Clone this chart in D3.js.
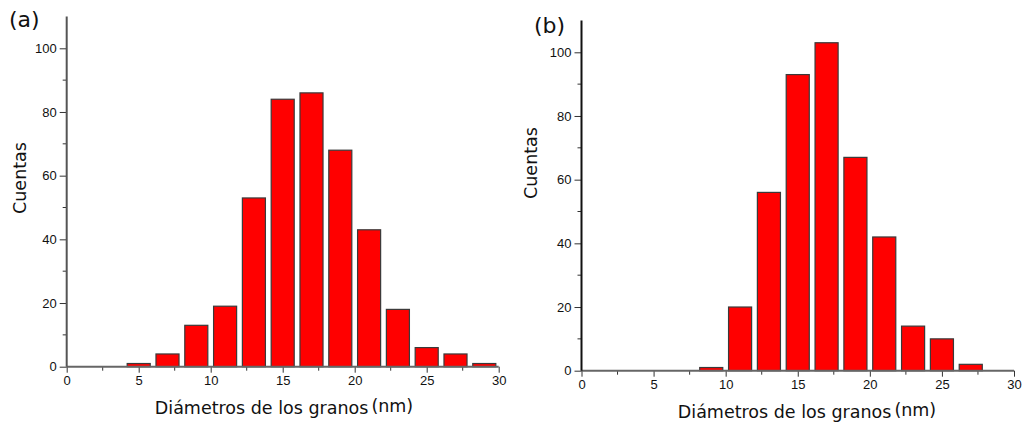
<!DOCTYPE html>
<html>
<head>
<meta charset="utf-8">
<script src="https://cdn.jsdelivr.net/npm/d3@7"></script>
<style>
  html, body { margin: 0; padding: 0; background: #fff; }
  svg { display: block; }
  .tick text { font-family: "Liberation Sans", Arial, sans-serif; font-size: 13px; fill: #111; }
  .title { font-family: "DejaVu Sans", sans-serif; fill: #111; }
</style>
</head>
<body>
<svg id="chart" width="1027" height="423"></svg>
<script>
// Grain-diameter histograms: bin centres (nm) and counts for each sample
const binsA = [5, 7, 9, 11, 13, 15, 17, 19, 21, 23, 25, 27, 29];
const countsA = [1, 4, 13, 19, 53, 84, 86, 68, 43, 18, 6, 4, 1];
const binsB = [9, 11, 13, 15, 17, 19, 21, 23, 25, 27];
const countsB = [1, 20, 56, 93, 103, 67, 42, 14, 10, 2];
const xTicks = [0, 5, 10, 15, 20, 25, 30];
const yTicks = [0, 20, 40, 60, 80, 100];
const xLabel = "Diámetros de los granos";
const xUnit = "(nm)";
const yLabel = "Cuentas";

const svg = d3.select("#chart");

function panel(opts) {
  const { bins, counts, tag, left, right, bottom, top, yAxisColor, tagPos, yTitleX, yTitleY, xTitleX } = opts;
  const x = d3.scaleLinear().domain([0, 30]).range([left, right]);
  const y = d3.scaleLinear().domain([0, 100]).range([bottom, top]);
  const g = svg.append("g");
  const binWidth = 2, barFrac = 0.8;

  // bars
  g.selectAll("rect.bar")
    .data(bins.map((b, i) => ({ b, c: counts[i] })))
    .join("rect")
    .attr("class", "bar")
    .attr("x", d => x(d.b - binWidth * barFrac / 2))
    .attr("width", d => x(d.b + binWidth * barFrac / 2) - x(d.b - binWidth * barFrac / 2))
    .attr("y", d => y(d.c))
    .attr("height", d => y(0) - y(d.c))
    .attr("fill", "#ff0000")
    .attr("stroke", "#3a3a3a")
    .attr("stroke-width", 1.2);

  // x axis: major ticks with labels, minor ticks in between
  const xAxis = g.append("g").attr("transform", `translate(0,${bottom})`)
    .call(d3.axisBottom(x).tickValues(xTicks).tickSize(6).tickPadding(3).tickFormat(d3.format("d")));
  xAxis.select(".domain").remove();
  xAxis.selectAll(".tick line").attr("stroke", "#333");
  const xMinor = d3.range(2.5, 30, 5);
  g.selectAll("line.xminor").data(xMinor).join("line")
    .attr("x1", d => x(d)).attr("x2", d => x(d))
    .attr("y1", bottom).attr("y2", bottom + 4)
    .attr("stroke", "#333");
  g.append("line")
    .attr("x1", x(0)).attr("x2", x(30))
    .attr("y1", bottom).attr("y2", bottom)
    .attr("stroke", "#666").attr("stroke-width", 2);

  // y axis
  const yMax = 110;
  const yAxis = g.append("g").attr("transform", `translate(${left},0)`)
    .call(d3.axisLeft(y).tickValues(yTicks).tickSize(7).tickPadding(3).tickFormat(d3.format("d")));
  yAxis.select(".domain").remove();
  yAxis.selectAll(".tick line").attr("stroke", "#333");
  const yMinor = d3.range(10, 110, 20);
  g.selectAll("line.yminor").data(yMinor).join("line")
    .attr("x1", left - 4).attr("x2", left)
    .attr("y1", d => y(d)).attr("y2", d => y(d))
    .attr("stroke", "#333");
  g.append("line")
    .attr("x1", left).attr("x2", left)
    .attr("y1", bottom).attr("y2", y(yMax))
    .attr("stroke", yAxisColor).attr("stroke-width", 2);

  // axis titles
  const xt = g.append("text").attr("class", "title")
    .attr("x", xTitleX).attr("y", bottom + 47)
    .attr("text-anchor", "middle").attr("font-size", 17.5);
  xt.append("tspan").text(xLabel);
  xt.append("tspan").attr("dx", 3).attr("dy", -2).text(xUnit);

  g.append("text").attr("class", "title")
    .attr("transform", `translate(${yTitleX},${yTitleY}) rotate(-90)`)
    .attr("text-anchor", "middle").attr("font-size", 17.5)
    .text(yLabel);

  // panel tag
  g.append("text").attr("class", "title")
    .attr("x", tagPos[0]).attr("y", tagPos[1])
    .attr("font-size", 22)
    .text(tag);
}

panel({
  bins: binsA, counts: countsA, tag: "(a)",
  left: 66.7, right: 498.7, bottom: 366.7, top: 48.3,
  yAxisColor: "#555", tagPos: [9, 27], yTitleX: 26, yTitleY: 178, xTitleX: 284
});
panel({
  bins: binsB, counts: countsB, tag: "(b)",
  left: 581.5, right: 1014, bottom: 370.7, top: 52.3,
  yAxisColor: "#111", tagPos: [534, 33], yTitleX: 537, yTitleY: 163, xTitleX: 807
});
</script>
</body>
</html>
